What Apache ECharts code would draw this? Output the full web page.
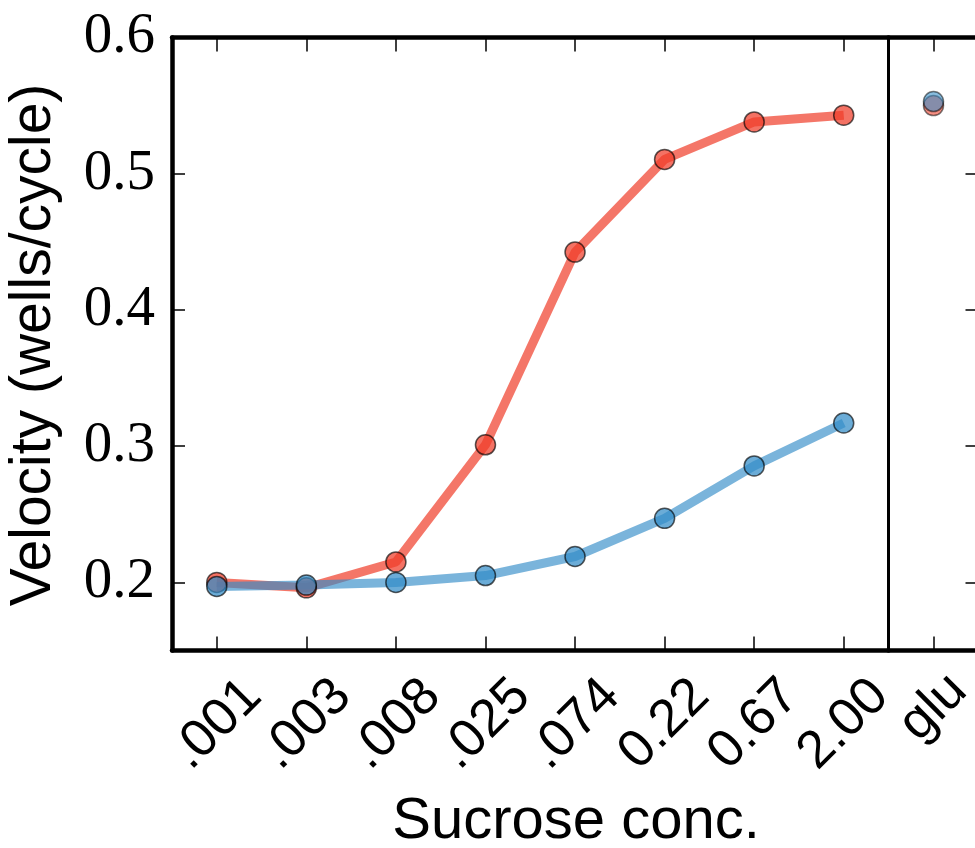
<!DOCTYPE html>
<html>
<head>
<meta charset="utf-8">
<script src="https://cdn.jsdelivr.net/npm/echarts@6/dist/echarts.min.js"></script>
<style>html,body{margin:0;padding:0;background:#fff}#c{width:975px;height:848px}</style>
</head>
<body>
<div id="c"></div>
<script>
const categories = ['.001', '.003', '.008', '.025', '.074', '0.22', '0.67', '2.00'];
const extraCategories = ['glu'];
const redValues = [0.200, 0.196, 0.215, 0.301, 0.4425, 0.5105, 0.538, 0.543];
const blueValues = [0.197, 0.198, 0.200, 0.205, 0.219, 0.247, 0.2855, 0.317];
const redGlu = [0.550];
const blueGlu = [0.553];
const yTicks = [0.2, 0.3, 0.4, 0.5, 0.6];
const yMin = 0.15, yMax = 0.6;

const RED_LINE = 'rgba(240,60,40,0.7)';
const RED_PT = 'rgba(240,60,40,0.72)';
const BLUE_LINE = 'rgba(50,140,200,0.65)';
const BLUE_PT = 'rgba(50,140,200,0.72)';
const EDGE = 'rgba(0,0,0,0.65)';

const chart = echarts.init(document.getElementById('c'), null, {renderer: 'canvas'});

function xAx(gridIndex, data, pos, labelShow, margin, lw) {
  return {
    type: 'category', gridIndex, data, position: pos, boundaryGap: true,
    axisLine: {show: true, lineStyle: {color: '#000', width: lw}},
    axisTick: {show: true, inside: true, length: 14, alignWithLabel: true, interval: 0, lineStyle: {color: '#000', width: 1.5}},
    axisLabel: {show: labelShow, interval: 0, rotate: 45, align: 'center', verticalAlign: 'middle', margin: margin,
      fontFamily: 'Liberation Sans', fontSize: 53, color: '#000'},
    splitLine: {show: false}
  };
}
function yAx(gridIndex, pos, opts) {
  return Object.assign({
    type: 'value', gridIndex, position: pos, min: yMin, max: yMax,
    axisLine: {show: true, lineStyle: {color: '#000', width: 4}},
    axisTick: {show: false},
    axisLabel: {show: false},
    splitLine: {show: false}
  }, opts);
}

const option = {
  animation: false,
  backgroundColor: '#fff',
  grid: [
    {left: 172, top: 37.5, width: 716.5, height: 613, containLabel: false, outerBoundsMode: 'none'},
    {left: 888.5, top: 37.5, width: 90, height: 613, containLabel: false, outerBoundsMode: 'none'}
  ],
  xAxis: [
    xAx(0, categories, 'bottom', true, 74, 4.5),
    xAx(0, categories, 'top', false, 8, 4.5),
    xAx(1, extraCategories, 'bottom', true, 57, 4.5),
    xAx(1, extraCategories, 'top', false, 8, 4.5)
  ],
  yAxis: [
    yAx(0, 'left', {
      axisLine: {show: true, lineStyle: {color: '#000', width: 4.5}},
      axisTick: {show: true, inside: true, length: 13, customValues: yTicks, lineStyle: {color: '#000', width: 1.5}},
      axisLabel: {show: true, customValues: yTicks, margin: 17, fontFamily: 'Liberation Serif', fontSize: 57, color: '#000',
        formatter: v => v.toFixed(1)}
    }),
    yAx(0, 'right', {axisLine: {show: true, lineStyle: {color: '#000', width: 3}}}),
    yAx(1, 'right', {
      axisLine: {show: true, lineStyle: {color: '#000', width: 4}},
      axisTick: {show: true, inside: true, length: 13, customValues: yTicks, lineStyle: {color: '#000', width: 1.5}}
    })
  ],
  series: [
    {type: 'line', xAxisIndex: 0, yAxisIndex: 0, data: redValues, symbol: 'circle', symbolSize: 20,
      lineStyle: {color: RED_LINE, width: 9}, itemStyle: {color: RED_PT, borderColor: EDGE, borderWidth: 1.5}},
    {type: 'line', xAxisIndex: 0, yAxisIndex: 0, data: blueValues, symbol: 'circle', symbolSize: 20,
      lineStyle: {color: BLUE_LINE, width: 9}, itemStyle: {color: BLUE_PT, borderColor: EDGE, borderWidth: 1.5}},
    {type: 'scatter', xAxisIndex: 2, yAxisIndex: 2, data: redGlu, symbol: 'circle', symbolSize: 20,
      itemStyle: {color: RED_PT, borderColor: EDGE, borderWidth: 1.5}},
    {type: 'scatter', xAxisIndex: 2, yAxisIndex: 2, data: blueGlu, symbol: 'circle', symbolSize: 20,
      itemStyle: {color: BLUE_PT, borderColor: EDGE, borderWidth: 1.5}}
  ],
  graphic: [
    {type: 'text', x: 576, y: 822, style: {text: 'Sucrose conc.', fontFamily: 'Liberation Sans', fontSize: 58,
      fill: '#000', align: 'center', verticalAlign: 'middle'}},
    {type: 'text', x: 34, y: 345, rotation: Math.PI / 2, style: {text: 'Velocity (wells/cycle)', fontFamily: 'Liberation Sans',
      fontSize: 57, fill: '#000', align: 'center', verticalAlign: 'middle'}}
  ]
};
chart.setOption(option);
</script>
</body>
</html>
